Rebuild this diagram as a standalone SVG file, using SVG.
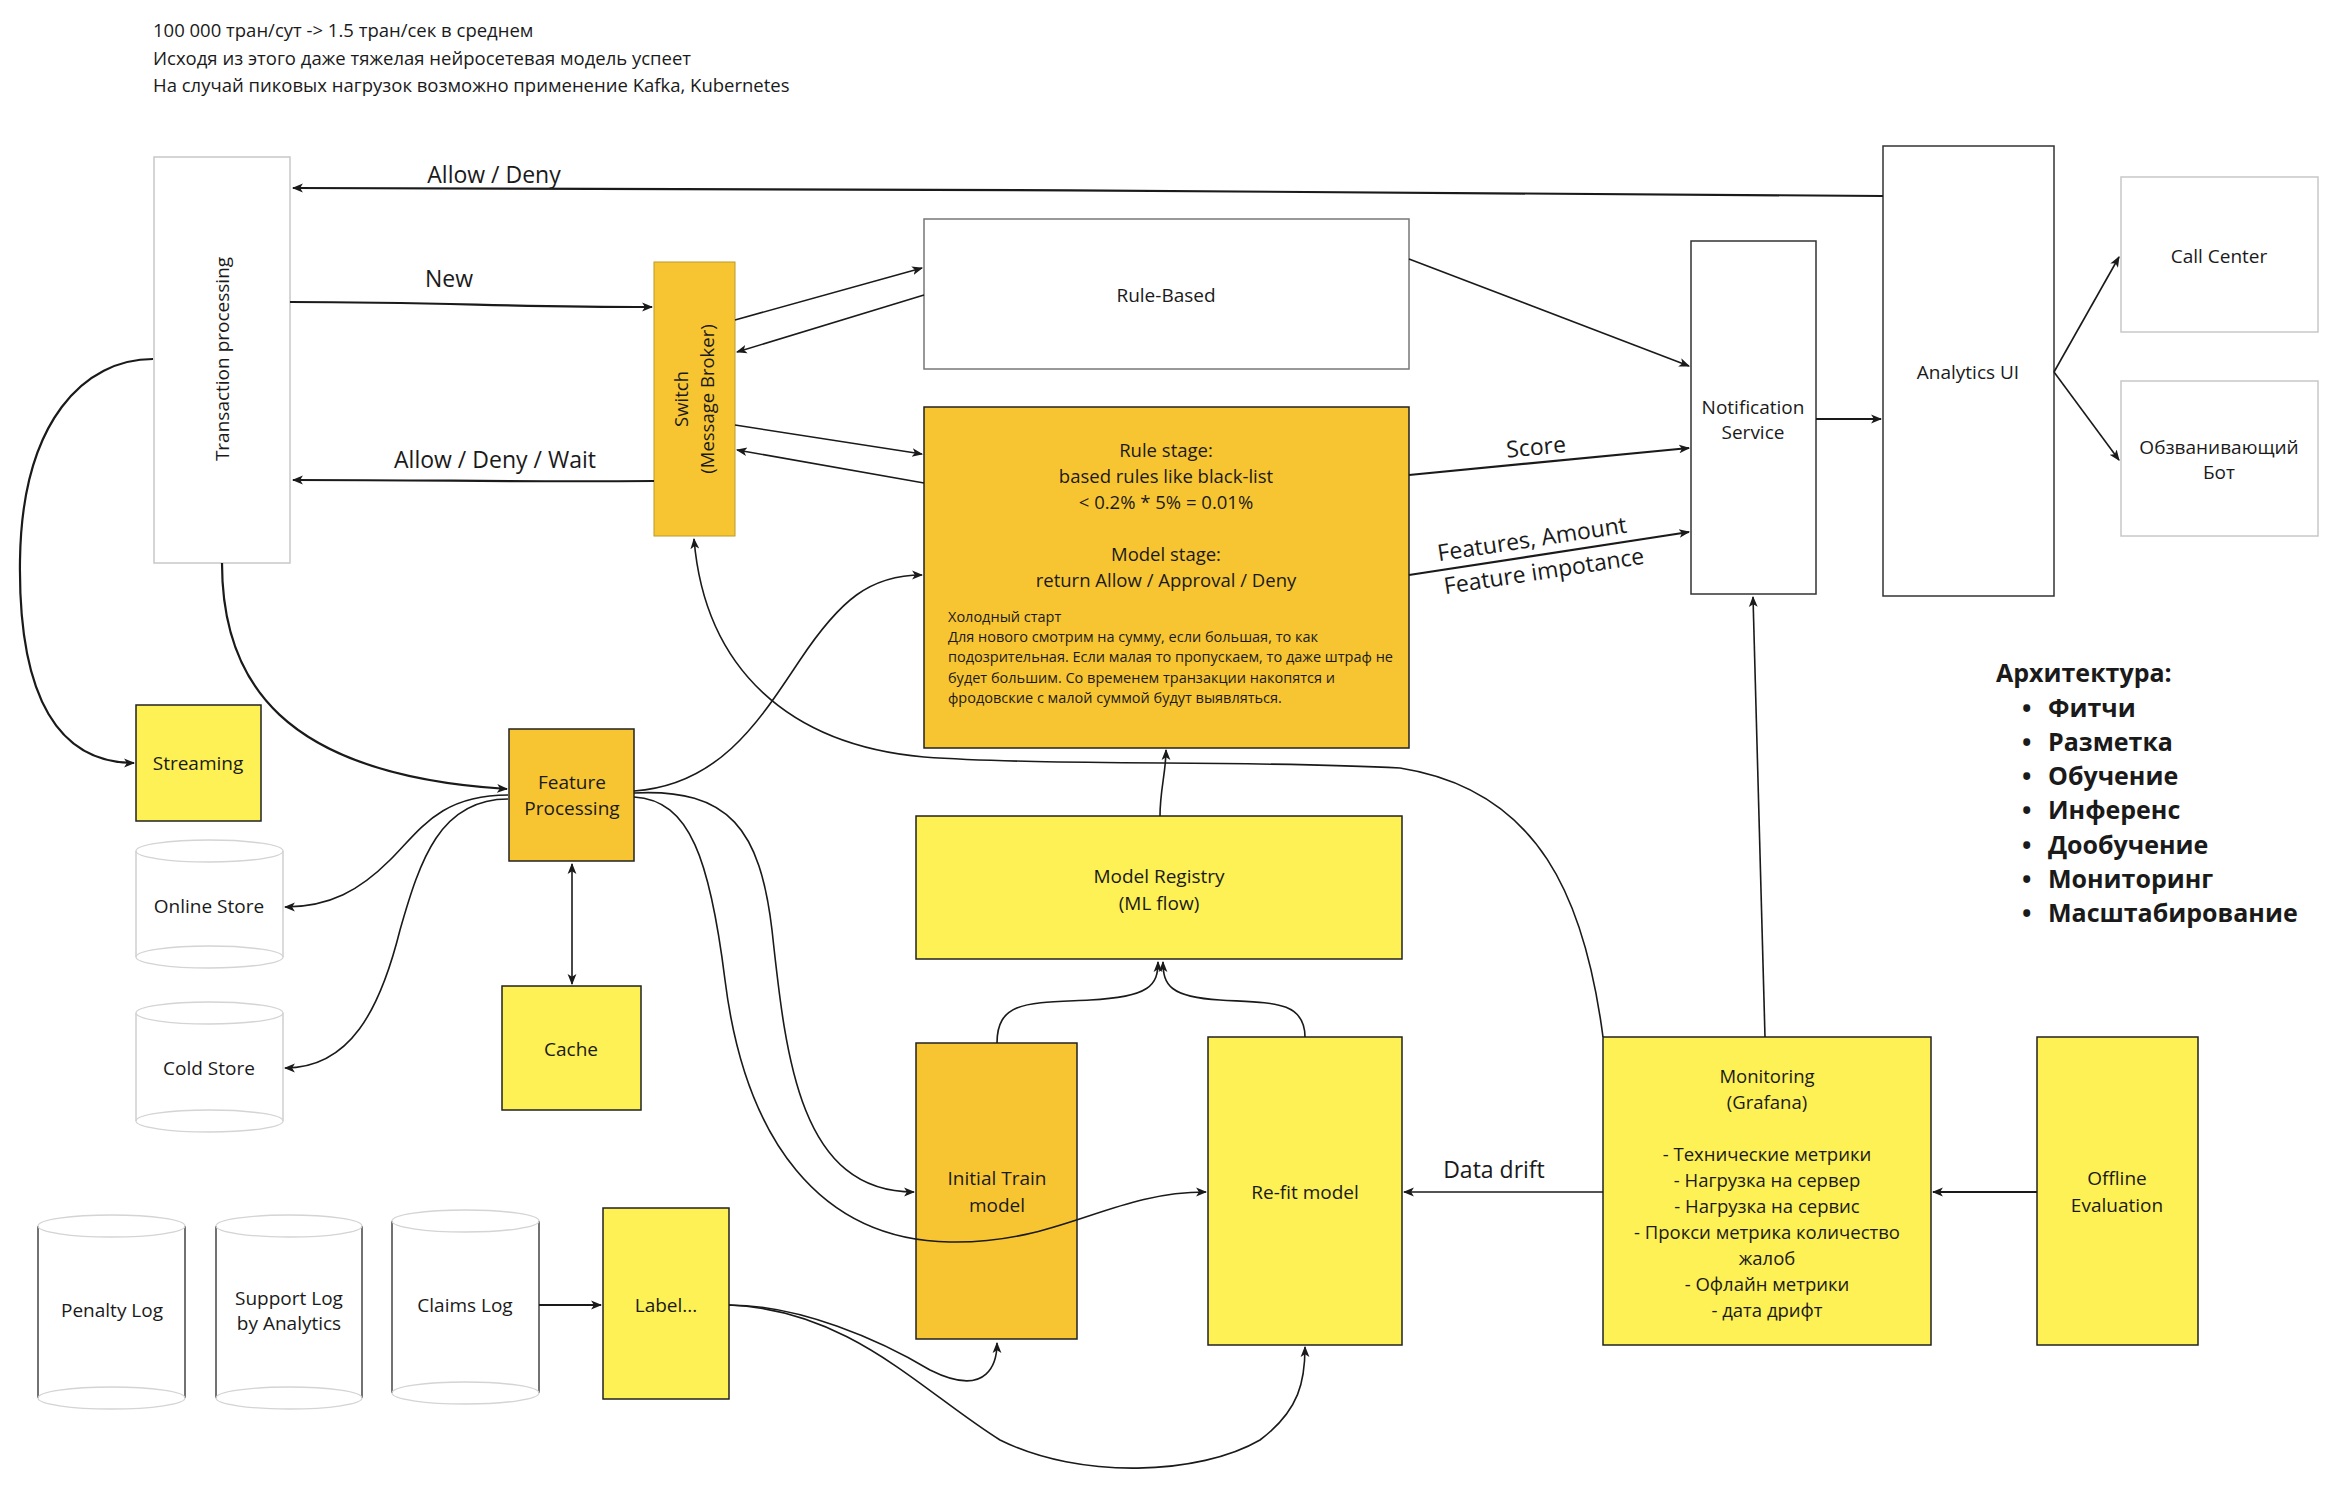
<svg xmlns="http://www.w3.org/2000/svg" width="2336" height="1496" viewBox="0 0 2336 1496">
<style>
text{font-family:"Open Sans","Noto Sans","DejaVu Sans",sans-serif;fill:#1a1a1a}
.t{font-size:19px;text-anchor:middle}
.lbl{font-size:23px;text-anchor:middle}
.hdr{font-size:18.5px}
.sm{font-size:14.5px}
.arch{font-size:25px;font-weight:bold}
.y{fill:#FDF155;stroke:#222;stroke-width:1.5}
.o{fill:#F8C532;stroke:#222;stroke-width:1.5}
.w{fill:#fff;stroke:#c8c8c8;stroke-width:1.5}
.wd{fill:#fff;stroke:#333;stroke-width:1.5}
.c{fill:none;stroke:#1a1a1a;stroke-width:2.2}
.c2{fill:none;stroke:#1a1a1a;stroke-width:1.6}
.cyl-side{fill:none;stroke:#444;stroke-width:1.5}
.cyl-side-l{fill:none;stroke:#d0d0d0;stroke-width:1.5}
.cyl-end{fill:none;stroke:#d4d4d4;stroke-width:1.3}
</style>
<defs>
<marker id="a" viewBox="0 0 10 10" refX="9" refY="5" markerWidth="11" markerHeight="11" markerUnits="userSpaceOnUse" orient="auto-start-reverse">
<path d="M0,1 L10,5 L0,9 L2.5,5 z" fill="#1a1a1a"/>
</marker>
</defs>
<rect width="2336" height="1496" fill="#fff"/>

<g id="header">
<text class="hdr" x="153" y="37">100 000 тран/сут -&gt; 1.5 тран/сек в среднем</text>
<text class="hdr" x="153" y="65">Исходя из этого даже тяжелая нейросетевая модель успеет</text>
<text class="hdr" x="153" y="92">На случай пиковых нагрузок возможно применение Kafka, Kubernetes</text>
</g>

<g id="architecture">
<text class="arch" x="1996" y="682">Архитектура:</text>
<text class="arch" x="2022" y="717">•</text><text class="arch" x="2048" y="717">Фитчи</text>
<text class="arch" x="2022" y="751">•</text><text class="arch" x="2048" y="751">Разметка</text>
<text class="arch" x="2022" y="785">•</text><text class="arch" x="2048" y="785">Обучение</text>
<text class="arch" x="2022" y="819">•</text><text class="arch" x="2048" y="819">Инференс</text>
<text class="arch" x="2022" y="854">•</text><text class="arch" x="2048" y="854">Дообучение</text>
<text class="arch" x="2022" y="888">•</text><text class="arch" x="2048" y="888">Мониторинг</text>
<text class="arch" x="2022" y="922">•</text><text class="arch" x="2048" y="922">Масштабирование</text>
</g>

<g id="transaction-processing">
<rect class="w" x="154" y="157" width="136" height="406"/>
<text class="t" transform="translate(222,359) rotate(-90)" y="7">Transaction processing</text>
</g>

<g id="switch">
<rect class="o" x="654" y="262" width="81" height="274" style="stroke:#b99a2a;stroke-width:1"/>
<text class="t" transform="translate(694,399) rotate(-90)" style="font-size:18.5px"><tspan x="0" y="-6">Switch</tspan><tspan x="0" y="20">(Message Broker)</tspan></text>
</g>

<g id="rule-based">
<rect class="w" x="924" y="219" width="485" height="150" style="stroke:#777"/>
<text class="t" x="1166" y="302">Rule-Based</text>
</g>

<g id="rule-stage">
<rect class="o" x="924" y="407" width="485" height="341"/>
<text class="t" style="font-size:18.5px"><tspan x="1166" y="457">Rule stage:</tspan><tspan x="1166" y="483">based rules like black-list</tspan><tspan x="1166" y="509">&lt; 0.2% * 5% = 0.01%</tspan><tspan x="1166" y="561">Model stage:</tspan><tspan x="1166" y="587">return Allow / Approval / Deny</tspan></text>
<text class="sm"><tspan x="948" y="622">Холодный старт</tspan><tspan x="948" y="642">Для нового смотрим на сумму, если большая, то как</tspan><tspan x="948" y="662">подозрительная. Если малая то пропускаем, то даже штраф не</tspan><tspan x="948" y="683">будет большим. Со временем транзакции накопятся и</tspan><tspan x="948" y="703">фродовские с малой суммой будут выявляться.</tspan></text>
</g>

<g id="notification-service">
<rect class="wd" x="1691" y="241" width="125" height="353"/>
<text class="t"><tspan x="1753" y="414">Notification</tspan><tspan x="1753" y="439">Service</tspan></text>
</g>

<g id="analytics-ui">
<rect class="wd" x="1883" y="146" width="171" height="450"/>
<text class="t" x="1968" y="379">Analytics UI</text>
</g>

<g id="call-center">
<rect class="w" x="2121" y="177" width="197" height="155"/>
<text class="t" x="2219" y="263">Call Center</text>
</g>

<g id="bot">
<rect class="w" x="2121" y="381" width="197" height="155"/>
<text class="t"><tspan x="2219" y="454">Обзванивающий</tspan><tspan x="2219" y="479">Бот</tspan></text>
</g>

<g id="streaming">
<rect class="y" x="136" y="705" width="125" height="116"/>
<text class="t" x="198" y="770">Streaming</text>
</g>

<g id="online-store">
<path class="cyl-side-l" d="M136,851 L136,957 M283,851 L283,957"/>
<ellipse class="cyl-end" cx="209.5" cy="851" rx="73.5" ry="11"/>
<ellipse class="cyl-end" cx="209.5" cy="957" rx="73.5" ry="11"/>
<text class="t" x="209" y="913">Online Store</text>
</g>

<g id="cold-store">
<path class="cyl-side-l" d="M136,1013 L136,1121 M283,1013 L283,1121"/>
<ellipse class="cyl-end" cx="209.5" cy="1013" rx="73.5" ry="11"/>
<ellipse class="cyl-end" cx="209.5" cy="1121" rx="73.5" ry="11"/>
<text class="t" x="209" y="1075">Cold Store</text>
</g>

<g id="feature-processing">
<rect class="o" x="509" y="729" width="125" height="132"/>
<text class="t"><tspan x="572" y="789">Feature</tspan><tspan x="572" y="815">Processing</tspan></text>
</g>

<g id="cache">
<rect class="y" x="502" y="986" width="139" height="124"/>
<text class="t" x="571" y="1056">Cache</text>
</g>

<g id="model-registry">
<rect class="y" x="916" y="816" width="486" height="143"/>
<text class="t"><tspan x="1159" y="883">Model Registry</tspan><tspan x="1159" y="910">(ML flow)</tspan></text>
</g>

<g id="initial-train">
<rect class="o" x="916" y="1043" width="161" height="296"/>
<text class="t"><tspan x="997" y="1185">Initial Train</tspan><tspan x="997" y="1212">model</tspan></text>
</g>

<g id="refit-model">
<rect class="y" x="1208" y="1037" width="194" height="308"/>
<text class="t" x="1305" y="1199">Re-fit model</text>
</g>

<g id="monitoring">
<rect class="y" x="1603" y="1037" width="328" height="308"/>
<text class="t" style="font-size:18.5px"><tspan x="1767" y="1083">Monitoring</tspan><tspan x="1767" y="1109">(Grafana)</tspan><tspan x="1767" y="1161">- Технические метрики</tspan><tspan x="1767" y="1187">- Нагрузка на сервер</tspan><tspan x="1767" y="1213">- Нагрузка на сервис</tspan><tspan x="1767" y="1239">- Прокси метрика количество</tspan><tspan x="1767" y="1265">жалоб</tspan><tspan x="1767" y="1291">- Офлайн метрики</tspan><tspan x="1767" y="1317">- дата дрифт</tspan></text>
</g>

<g id="offline-evaluation">
<rect class="y" x="2037" y="1037" width="161" height="308"/>
<text class="t"><tspan x="2117" y="1185">Offline</tspan><tspan x="2117" y="1212">Evaluation</tspan></text>
</g>

<g id="penalty-log">
<path class="cyl-side" d="M38,1226 L38,1398 M185,1226 L185,1398"/>
<ellipse class="cyl-end" cx="111.5" cy="1226" rx="73.5" ry="11"/>
<ellipse class="cyl-end" cx="111.5" cy="1398" rx="73.5" ry="11"/>
<text class="t" x="112" y="1317">Penalty Log</text>
</g>

<g id="support-log">
<path class="cyl-side" d="M216,1226 L216,1398 M362,1226 L362,1398"/>
<ellipse class="cyl-end" cx="289" cy="1226" rx="73" ry="11"/>
<ellipse class="cyl-end" cx="289" cy="1398" rx="73" ry="11"/>
<text class="t"><tspan x="289" y="1305">Support Log</tspan><tspan x="289" y="1330">by Analytics</tspan></text>
</g>

<g id="claims-log">
<path class="cyl-side" d="M392,1221 L392,1393 M539,1221 L539,1393"/>
<ellipse class="cyl-end" cx="465.5" cy="1221" rx="73.5" ry="11"/>
<ellipse class="cyl-end" cx="465.5" cy="1393" rx="73.5" ry="11"/>
<text class="t" x="465" y="1312">Claims Log</text>
</g>

<g id="label">
<rect class="y" x="603" y="1208" width="126" height="191"/>
<text class="t" x="666" y="1312">Label...</text>
</g>

<g id="connectors">
<path class="c" d="M1883,196 C1500,192 700,188 293,188" marker-end="url(#a)"/>
<path class="c" d="M290,302 C450,302 500,307 652,307" marker-end="url(#a)"/>
<path class="c" d="M654,481 C500,482 450,480 293,480" marker-end="url(#a)"/>
<path class="c2" d="M735,320 L922,268" marker-end="url(#a)"/>
<path class="c2" d="M924,295 L737,352" marker-end="url(#a)"/>
<path class="c2" d="M735,425 L922,454" marker-end="url(#a)"/>
<path class="c2" d="M924,483 L737,450" marker-end="url(#a)"/>
<path class="c2" d="M1409,259 L1689,366" marker-end="url(#a)"/>
<path class="c" d="M1409,475 L1689,448" marker-end="url(#a)"/>
<path class="c" d="M1409,575 L1689,532" marker-end="url(#a)"/>
<path class="c" d="M1816,419 L1881,419" marker-end="url(#a)"/>
<path class="c2" d="M2054,372 L2119,257" marker-end="url(#a)"/>
<path class="c2" d="M2054,372 L2119,460" marker-end="url(#a)"/>
<path class="c2" d="M1765,1037 L1753,597" marker-end="url(#a)"/>
<path class="c" d="M2037,1192 L1933,1192" marker-end="url(#a)"/>
<path class="c2" d="M1603,1192 L1404,1192" marker-end="url(#a)"/>
<path class="c2" d="M1603,1037 C1585,900 1540,790 1400,768 C1250,760 1050,766 924,757 C790,745 705,670 694,539" marker-end="url(#a)"/>
<path class="c2" d="M1160,816 C1160,790 1166,772 1166,750" marker-end="url(#a)"/>
<path class="c2" d="M997,1043 C997,1000 1030,1003 1090,1000 C1150,997 1158,985 1158,962" marker-end="url(#a)"/>
<path class="c2" d="M1305,1037 C1305,1000 1270,1003 1220,1000 C1170,997 1163,985 1163,962" marker-end="url(#a)"/>
<path class="c2" d="M572,864 L572,984" marker-start="url(#a)" marker-end="url(#a)"/>
<path class="c" d="M153,359 C85,359 22,420 20,560 C18,700 60,763 134,763" marker-end="url(#a)"/>
<path class="c" d="M222,563 C222,680 280,775 507,789" marker-end="url(#a)"/>
<path class="c2" d="M508,795 C440,795 420,830 390,860 C360,890 330,907 285,907" marker-end="url(#a)"/>
<path class="c2" d="M508,799 C440,799 420,860 400,930 C380,1010 350,1068 285,1068" marker-end="url(#a)"/>
<path class="c2" d="M634,791 C720,785 760,720 800,660 C840,600 870,575 922,575" marker-end="url(#a)"/>
<path class="c2" d="M634,793 C730,788 760,830 772,930 C786,1060 800,1192 914,1192" marker-end="url(#a)"/>
<path class="c2" d="M634,797 C690,800 710,860 725,980 C745,1140 820,1240 950,1242 C1060,1244 1110,1192 1206,1192" marker-end="url(#a)"/>
<path class="c" d="M539,1305 L601,1305" marker-end="url(#a)"/>
<path class="c2" d="M729,1305 C800,1305 880,1340 930,1370 C990,1400 997,1360 997,1343" marker-end="url(#a)"/>
<path class="c2" d="M729,1305 C850,1310 920,1390 1000,1440 C1080,1480 1200,1475 1260,1440 C1300,1410 1305,1380 1305,1347" marker-end="url(#a)"/>
<text class="lbl" x="494" y="183">Allow / Deny</text>
<text class="lbl" x="449" y="287">New</text>
<text class="lbl" x="495" y="468">Allow / Deny / Wait</text>
<text class="lbl" x="1536" y="455" transform="rotate(-5.4 1536 447)">Score</text>
<text class="lbl" x="1532" y="547" transform="rotate(-8.7 1532 539)">Features, Amount</text>
<text class="lbl" x="1544" y="579" transform="rotate(-8.7 1544 571)">Feature impotance</text>
<text class="lbl" x="1494" y="1178">Data drift</text>
</g>
</svg>
